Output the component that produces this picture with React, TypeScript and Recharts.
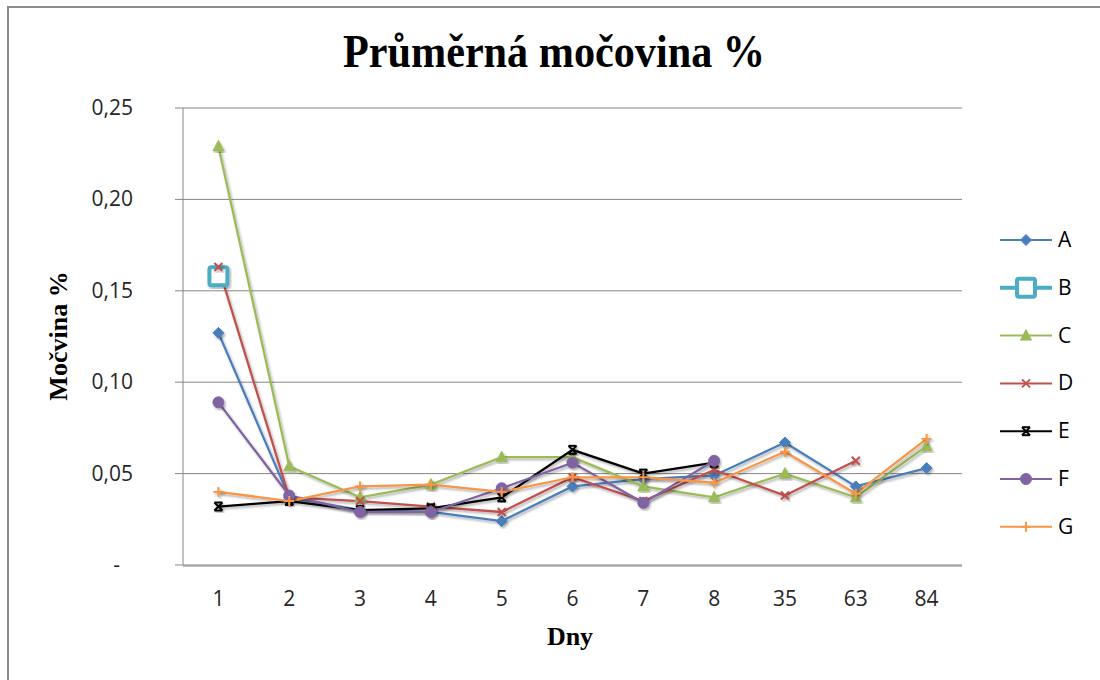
import React from "react";
import { LineChart, Line, XAxis, YAxis, CartesianGrid } from "recharts";

const days = ["1", "2", "3", "4", "5", "6", "7", "8", "35", "63", "84"];
const seriesA = [0.127, 0.037, 0.030, 0.029, 0.024, 0.043, 0.047, 0.049, 0.067, 0.043, 0.053];
const seriesB = [0.158, null, null, null, null, null, null, null, null, null, null];
const seriesC = [0.229, 0.054, 0.037, 0.044, 0.059, 0.059, 0.043, 0.037, 0.050, 0.037, 0.065];
const seriesD = [0.163, 0.037, 0.035, 0.032, 0.029, 0.048, 0.035, 0.052, 0.038, 0.057, null];
const seriesE = [0.032, 0.035, 0.030, 0.031, 0.037, 0.063, 0.050, 0.056, null, null, null];
const seriesF = [0.089, 0.038, 0.029, 0.029, 0.042, 0.056, 0.034, 0.057, null, null, null];
const seriesG = [0.040, 0.035, 0.043, 0.044, 0.040, 0.048, 0.048, 0.045, 0.062, 0.039, 0.069];
const yTicks = [0, 0.05, 0.1, 0.15, 0.2, 0.25];

const names = ["A", "B", "C", "D", "E", "F", "G"];
const colors: Record<string, string> = {
  A: "#4A7EBB",
  B: "#4BACC6",
  C: "#9BBB59",
  D: "#C0504D",
  E: "#000000",
  F: "#8064A2",
  G: "#F79646",
};

const data = days.map((d, i) => ({
  idx: i,
  day: d,
  A: seriesA[i],
  B: seriesB[i],
  C: seriesC[i],
  D: seriesD[i],
  E: seriesE[i],
  F: seriesF[i],
  G: seriesG[i],
}));

const idxTicks = days.map((_, i) => i);
const boundaryTicks = [...days.map((_, i) => i - 0.5), days.length - 0.5];

function Marker({ name, cx, cy }: { name: string; cx: number; cy: number }) {
  const c = colors[name];
  switch (name) {
    case "A":
      return <polygon points={`${cx},${cy - 5.5} ${cx + 5.5},${cy} ${cx},${cy + 5.5} ${cx - 5.5},${cy}`} fill={c} stroke={c} strokeWidth={1} />;
    case "B":
      return <rect x={cx - 9} y={cy - 9} width={18} height={18} rx={2} fill="#fff" stroke={c} strokeWidth={4} />;
    case "C":
      return <polygon points={`${cx},${cy - 6} ${cx + 5.5},${cy + 4.5} ${cx - 5.5},${cy + 4.5}`} fill={c} stroke={c} strokeWidth={1} />;
    case "D":
      return (
        <g stroke={c} strokeWidth={2}>
          <line x1={cx - 4} y1={cy - 4} x2={cx + 4} y2={cy + 4} />
          <line x1={cx - 4} y1={cy + 4} x2={cx + 4} y2={cy - 4} />
        </g>
      );
    case "E":
      return (
        <g stroke={c} strokeWidth={2}>
          <line x1={cx - 4} y1={cy - 4} x2={cx + 4} y2={cy + 4} />
          <line x1={cx - 4} y1={cy + 4} x2={cx + 4} y2={cy - 4} />
          <line x1={cx - 4} y1={cy - 4} x2={cx + 4} y2={cy - 4} />
          <line x1={cx - 4} y1={cy + 4} x2={cx + 4} y2={cy + 4} />
        </g>
      );
    case "F":
      return <circle cx={cx} cy={cy} r={5.5} fill={c} stroke={c} strokeWidth={1} />;
    case "G":
    default:
      return (
        <g stroke={c} strokeWidth={2}>
          <line x1={cx - 5} y1={cy} x2={cx + 5} y2={cy} />
          <line x1={cx} y1={cy - 5} x2={cx} y2={cy + 5} />
        </g>
      );
  }
}

const makeDot = (name: string) => (p: any) => {
  const key = `${name}-${p.index}`;
  if (p.cx == null || p.cy == null || p.value == null || (Array.isArray(p.value) && p.value[1] == null)) {
    return <g key={key} />;
  }
  return (
    <g key={key} filter="url(#shadow)">
      <Marker name={name} cx={p.cx} cy={p.cy} />
    </g>
  );
};

const YTick = (props: any) => {
  const { x, y, payload } = props;
  const v = payload.value as number;
  const label = v === 0 ? "-" : v.toFixed(2).replace(".", ",");
  return (
    <text
      x={v === 0 ? x - 13 : x}
      y={y}
      dy={7}
      textAnchor="end"
      fill="#262626"
      fontSize={21}
      fontFamily="'Open Sans', 'Liberation Sans', sans-serif"
    >
      {label}
    </text>
  );
};

const XTick = (props: any) => {
  const { x, y, payload } = props;
  return (
    <text
      x={x}
      y={y}
      dy={15}
      textAnchor="middle"
      fill="#262626"
      fontSize={21}
      fontFamily="'Open Sans', 'Liberation Sans', sans-serif"
    >
      {days[payload.value]}
    </text>
  );
};

const axisColor = "#868686";

export default function App() {
  return (
    <div style={{ position: "absolute", left: 0, top: 0, width: 1100, height: 680, background: "#fff", overflow: "hidden" }}>
      <svg width={0} height={0} style={{ position: "absolute" }}>
        <defs>
          <filter id="shadow" x="-20%" y="-20%" width="140%" height="140%">
            <feDropShadow dx={1.5} dy={2} stdDeviation={1.3} floodColor="#000" floodOpacity={0.3} />
          </filter>
        </defs>
      </svg>
      <div
        style={{
          position: "absolute",
          left: 7,
          top: 6,
          width: 1100,
          height: 700,
          borderLeft: "2px solid #8c8c8c",
          borderTop: "2px solid #8c8c8c",
          boxSizing: "border-box",
        }}
      />
      <div style={{ position: "absolute", left: 0, top: 0 }}>
        <LineChart width={1100} height={680} data={data} margin={{ top: 108, right: 138, bottom: 113, left: 123 }}>
          <CartesianGrid vertical={false} stroke={axisColor} strokeWidth={1} />
          <XAxis
            xAxisId="bounds"
            dataKey="idx"
            type="number"
            domain={[-0.5, days.length - 0.5]}
            ticks={boundaryTicks}
            tick={false}
            tickLine={{ stroke: axisColor }}
            tickSize={9}
            axisLine={{ stroke: axisColor }}
            height={1}
            interval={0}
            allowDataOverflow
          />
          <XAxis
            dataKey="idx"
            type="number"
            domain={[-0.5, days.length - 0.5]}
            ticks={idxTicks}
            tick={<XTick />}
            tickLine={false}
            tickSize={8}
            tickMargin={18}
            axisLine={false}
            height={1}
            interval={0}
            allowDataOverflow
          />
          <YAxis
            type="number"
            domain={[0, 0.25]}
            ticks={yTicks}
            tick={<YTick />}
            tickSize={8}
            tickMargin={42}
            tickLine={{ stroke: axisColor }}
            axisLine={{ stroke: axisColor }}
            width={60}
            interval={0}
            allowDataOverflow
          />
          {names.map((n) => (
            <Line
              key={n}
              dataKey={n}
              type="linear"
              stroke={colors[n]}
              strokeWidth={n === "B" ? 4 : 2.25}
              dot={makeDot(n)}
              activeDot={false}
              isAnimationActive={false}
              connectNulls={false}
              filter="url(#shadow)"
            />
          ))}
        </LineChart>
      </div>
      <svg width={1100} height={680} style={{ position: "absolute", left: 0, top: 0, pointerEvents: "none" }}>
        <text
          x={554}
          y={67}
          textAnchor="middle"
          fontFamily="'Liberation Serif', 'Times New Roman', serif"
          fontWeight="bold"
          fontSize={46}
          textLength={422}
          lengthAdjust="spacingAndGlyphs"
          fill="#000"
        >
          Průměrná močovina %
        </text>
        <text
          x={570}
          y={645}
          textAnchor="middle"
          fontFamily="'Liberation Serif', 'Times New Roman', serif"
          fontWeight="bold"
          fontSize={26}
          fill="#000"
        >
          Dny
        </text>
        <text
          x={0}
          y={0}
          transform="translate(67,336) rotate(-90)"
          textAnchor="middle"
          fontFamily="'Liberation Serif', 'Times New Roman', serif"
          fontWeight="bold"
          fontSize={26}
          fill="#000"
        >
          Močvina %
        </text>
        {names.map((n, i) => {
          const y = 240 + i * 47.8;
          return (
            <g key={n}>
              <line x1={1000} y1={y} x2={1052} y2={y} stroke={colors[n]} strokeWidth={n === "B" ? 4 : 2} />
              <Marker name={n} cx={1026} cy={y} />
              <text
                x={1058}
                y={y + 7}
                fontSize={21}
                fill="#000"
                fontFamily="'Open Sans', 'Liberation Sans', sans-serif"
              >
                {n}
              </text>
            </g>
          );
        })}
      </svg>
    </div>
  );
}
